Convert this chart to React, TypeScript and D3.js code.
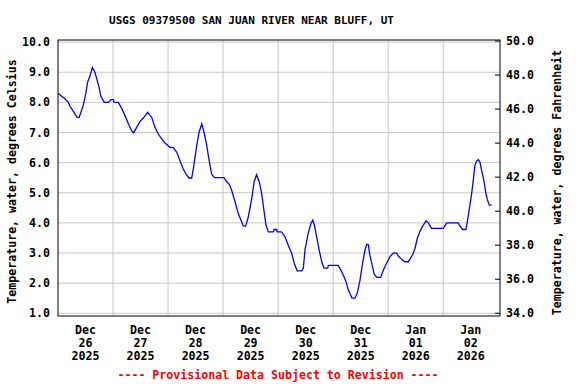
import React from "react";
import * as d3 from "d3";

// hours since 2025-12-26 00:00 and water temperature (deg C)
const hours = [
  0, 1.6, 3.05, 4.5, 5.2, 6.7, 7.7, 8.3, 9.2, 10.0, 11.0, 12.1, 12.9, 14.0, 15.0, 16.1, 16.9, 17.9, 18.7,
  20.2, 21.9, 23.1, 24.1, 24.5, 26.3, 27.8, 29.2, 30.7, 32.1, 33.0, 34.3, 35.8, 37.2, 38.2, 39.1, 40.9,
  42.0, 43.7, 45.2, 46.6, 48.8, 50.3, 51.8, 53.2, 54.6, 56.1, 57.1, 58.3, 59.0, 60.5, 61.5, 62.7, 63.7,
  64.8, 65.8, 67.0, 68.2, 72.4, 73.3, 74.7, 75.7, 77.2, 78.6, 80.1, 80.8, 81.8, 83.0, 84.5, 85.5, 86.6,
  87.8, 88.8, 89.8, 90.7, 91.7, 93.9, 94.2, 95.4, 95.6, 97.5, 99.0, 100.4, 101.9, 103.0, 104.3, 106.3,
  107.0, 107.7, 109.1, 110.3, 111.1, 111.8, 112.8, 113.9, 115.0, 116.0, 117.6, 117.9, 122.2, 123.3,
  124.4, 125.6, 126.6, 127.6, 128.2, 129.5, 130.5, 131.7, 132.9, 133.9, 134.6, 135.3, 136.0, 137.0,
  137.9, 139.0, 140.7, 141.6, 142.6, 143.6, 144.8, 146.2, 147.7, 148.4, 149.9, 151.3, 152.7, 153.5,
  154.7, 155.7, 156.7, 157.8, 159.0, 160.5, 161.5, 162.9, 168.0, 168.7, 169.5, 174.5, 175.3, 176.5,
  177.9, 178.5, 179.3, 180.4, 181.1, 181.8, 182.6, 183.3, 184.0, 184.7, 185.7, 186.6, 187.2, 188.1, 189.1,
];
const tempC = [
  8.3, 8.2, 8.12, 8.0, 7.87, 7.7, 7.58, 7.5, 7.5, 7.67, 7.9, 8.28, 8.67, 8.89, 9.16, 9.0, 8.78, 8.5, 8.2,
  8.0, 8.0, 8.09, 8.09, 8.0, 8.0, 7.8, 7.56, 7.29, 7.06, 6.99, 7.17, 7.37, 7.48, 7.58, 7.67, 7.5,
  7.23, 6.95, 6.79, 6.66, 6.51, 6.5, 6.34, 6.06, 5.79, 5.59, 5.49, 5.49, 5.79, 6.57, 7.0, 7.29, 7.0,
  6.6, 6.12, 5.62, 5.5, 5.5, 5.39, 5.28, 5.09, 4.7, 4.31, 4.04, 3.89, 3.89, 4.2, 4.81, 5.36, 5.6,
  5.36, 4.98, 4.42, 3.93, 3.7, 3.7, 3.78, 3.78, 3.7, 3.7, 3.54, 3.26, 2.99, 2.66, 2.41, 2.41,
  2.5, 3.1, 3.65, 3.98, 4.09, 3.93, 3.54, 3.1, 2.71, 2.5, 2.5, 2.59, 2.59, 2.44,
  2.27, 2.05, 1.77, 1.61, 1.5, 1.5, 1.66, 2.1, 2.71, 3.1, 3.29, 3.29, 2.93, 2.6,
  2.3, 2.19, 2.19, 2.38, 2.55, 2.71, 2.88, 3.0, 3.0, 2.9, 2.79, 2.71, 2.71, 2.8,
  2.95, 3.16, 3.49, 3.71, 3.89, 4.07, 4.0, 3.82, 3.82, 3.9, 4.0, 4.0, 3.89, 3.78,
  3.78, 4.04, 4.42, 4.98, 5.42, 5.91, 6.06, 6.1, 6.02, 5.75, 5.42, 4.98, 4.78, 4.59, 4.59,
];
const celsiusTicks = [1, 2, 3, 4, 5, 6, 7, 8, 9, 10];
const fahrenheitTicks = [34, 36, 38, 40, 42, 44, 46, 48, 50];

const TITLE = "USGS 09379500 SAN JUAN RIVER NEAR BLUFF, UT";
const LEFT_LABEL = "Temperature, water, degrees Celsius";
const RIGHT_LABEL = "Temperature, water, degrees Fahrenheit";
const NOTE = "---- Provisional Data Subject to Revision ----";

const W = 576;
const H = 384;
const plot = { left: 58, right: 500, top: 40, bottom: 316 };
const font = "'DejaVu Sans Mono', monospace";

const start = Date.UTC(2025, 11, 26);
const HOUR = 3600 * 1000;

export default function App() {
  const x = d3
    .scaleUtc()
    .domain([new Date(start), new Date(start + (8 * 24 + 0.75) * HOUR)])
    .range([plot.left, plot.right]);
  const yC = d3.scaleLinear().domain([0.91, 10.07]).range([plot.bottom, plot.top]);
  const yF = d3.scaleLinear().domain([33.84, 50.06]).range([plot.bottom, plot.top]);

  const data = hours.map((h, i) => ({ t: new Date(start + h * HOUR), v: tempC[i] }));
  const line = d3
    .line<{ t: Date; v: number }>()
    .x((d) => x(d.t))
    .y((d) => yC(d.v));

  const days = d3.utcDay.range(new Date(start), new Date(start + 8 * 24 * HOUR));
  const midnights = days.slice(1);
  const fmt = d3.format(".1f");

  return (
    <svg
      width={W}
      height={H}
      style={{ position: "absolute", left: 0, top: 0, background: "#fff" }}
      fontFamily={font}
      fontWeight="bold"
    >
      <rect x={0} y={0} width={W} height={H} fill="#fff" />
      <text x={251.5} y={24} fontSize={11} textAnchor="middle">
        {TITLE}
      </text>

      {/* grid */}
      {celsiusTicks.map((t) => (
        <line key={"h" + t} x1={plot.left} x2={plot.right} y1={yC(t)} y2={yC(t)} stroke="#c8c8c8" />
      ))}
      {midnights.map((d) => (
        <line key={"v" + d.getTime()} x1={x(d)} x2={x(d)} y1={plot.top} y2={plot.bottom} stroke="#c8c8c8" />
      ))}

      <path d={line(data) ?? ""} fill="none" stroke="#0000ff" strokeWidth={1.3} />

      <rect
        x={plot.left}
        y={plot.top}
        width={plot.right - plot.left}
        height={plot.bottom - plot.top}
        fill="none"
        stroke="#000"
        strokeWidth={1}
      />

      {/* left axis */}
      {celsiusTicks.map((t) => (
        <text key={"lc" + t} x={50} y={yC(t)} dy="0.35em" fontSize={11.6} textAnchor="end">
          {fmt(t)}
        </text>
      ))}
      <text
        transform={`translate(12, 181.5) rotate(-90)`}
        dy="0.35em"
        fontSize={11.6}
        textAnchor="middle"
      >
        {LEFT_LABEL}
      </text>

      {/* right axis */}
      {fahrenheitTicks.map((t) => (
        <g key={"rf" + t}>
          <line x1={plot.right - 5} x2={plot.right} y1={yF(t)} y2={yF(t)} stroke="#000" />
          <text x={506} y={yF(t)} dy="0.35em" fontSize={11.6}>
            {fmt(t)}
          </text>
        </g>
      ))}
      <text
        transform={`translate(557, 182.5) rotate(-90)`}
        dy="0.35em"
        fontSize={11.6}
        textAnchor="middle"
      >
        {RIGHT_LABEL}
      </text>

      {/* x axis labels at noon */}
      {days.map((d) => {
        const noon = new Date(d.getTime() + 12 * HOUR);
        const cx = x(noon);
        return (
          <text key={"x" + d.getTime()} x={cx} fontSize={11.6} textAnchor="middle">
            <tspan x={cx} y={334}>{d3.utcFormat("%b")(d)}</tspan>
            <tspan x={cx} y={347}>{d3.utcFormat("%d")(d)}</tspan>
            <tspan x={cx} y={360}>{d3.utcFormat("%Y")(d)}</tspan>
          </text>
        );
      })}

      <text x={278} y={379} fontSize={11.6} textAnchor="middle" fill="#ff0000">
        {NOTE}
      </text>
    </svg>
  );
}
